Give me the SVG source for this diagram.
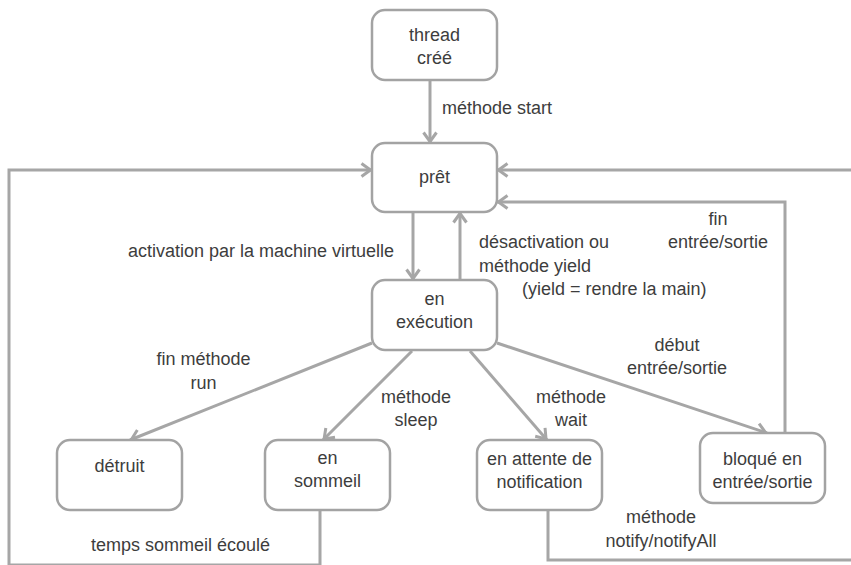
<svg xmlns="http://www.w3.org/2000/svg" width="851" height="565" viewBox="0 0 851 565">
<style>
.n rect{fill:#fff;stroke:#a3a3a3;stroke-width:2.5}
text{font-family:"Liberation Sans",Arial,sans-serif;font-size:18px;fill:#3d3d3d}
.m{text-anchor:middle}
.c path{fill:none;stroke:#a6a6a6;stroke-width:3}
</style>
<defs>
<marker id="a" viewBox="-12 -9 15 18" refX="1.5" refY="0" markerWidth="15" markerHeight="18" markerUnits="userSpaceOnUse" orient="auto">
<path d="M-9,-6.5 L0,0 L-9,6.5" fill="none" stroke="#a6a6a6" stroke-width="3" stroke-linejoin="round"/>
</marker>
</defs>
<rect width="851" height="565" fill="#fff"/>
<g class="c" id="connectors">
<path d="M430,80 V143" marker-end="url(#a)"/>
<path d="M413,212 V280" marker-end="url(#a)"/>
<path d="M460,280 V212" marker-end="url(#a)"/>
<path d="M372,343 L130,440" marker-end="url(#a)"/>
<path d="M412,351 L323,440" marker-end="url(#a)"/>
<path d="M470,351 L547,440" marker-end="url(#a)"/>
<path d="M497,343 L767,433" marker-end="url(#a)"/>
<path d="M785,433 V202 H497" marker-end="url(#a)"/>
<path d="M320,510 V565 H9 V170 H372" marker-end="url(#a)"/>
<path d="M548,510 V560 H870 V170 H497" marker-end="url(#a)"/>
</g>
<g class="n" id="thread"><rect x="372" y="10" width="125" height="70" rx="13"/><text class="m" x="434.5" y="41">thread</text><text class="m" x="434.5" y="64">créé</text></g>
<g class="n" id="pret"><rect x="372" y="143" width="125" height="69" rx="13"/><text class="m" x="434.5" y="183">prêt</text></g>
<g class="n" id="execution"><rect x="372" y="280" width="125" height="70" rx="13"/><text class="m" x="434.5" y="305">en</text><text class="m" x="434.5" y="328">exécution</text></g>
<g class="n" id="detruit"><rect x="57" y="440" width="125" height="70" rx="13"/><text class="m" x="119.5" y="472">détruit</text></g>
<g class="n" id="sommeil"><rect x="265" y="440" width="125" height="70" rx="13"/><text class="m" x="327.5" y="464">en</text><text class="m" x="327.5" y="487">sommeil</text></g>
<g class="n" id="attente"><rect x="477" y="440" width="125" height="70" rx="13"/><text class="m" x="539.5" y="465">en attente de</text><text class="m" x="539.5" y="488">notification</text></g>
<g class="n" id="bloque"><rect x="700" y="433" width="125" height="70" rx="13"/><text class="m" x="762.5" y="465">bloqué en</text><text class="m" x="762.5" y="488">entrée/sortie</text></g>
<g id="labels">
<text x="442" y="114">méthode start</text>
<text x="128" y="257">activation par la machine virtuelle</text>
<text x="479" y="248">désactivation ou</text>
<text x="479" y="272">méthode yield</text>
<text x="522" y="295">(yield = rendre la main)</text>
<text class="m" x="718" y="225">fin</text>
<text class="m" x="718" y="248">entrée/sortie</text>
<text class="m" x="203.5" y="365">fin méthode</text>
<text class="m" x="203.5" y="389">run</text>
<text class="m" x="416" y="403">méthode</text>
<text class="m" x="416" y="426">sleep</text>
<text class="m" x="571" y="403">méthode</text>
<text class="m" x="571" y="426">wait</text>
<text class="m" x="677" y="351">début</text>
<text class="m" x="677" y="374">entrée/sortie</text>
<text class="m" x="661" y="523">méthode</text>
<text class="m" x="661" y="547">notify/notifyAll</text>
<text x="91" y="551">temps sommeil écoulé</text>
</g>
</svg>
